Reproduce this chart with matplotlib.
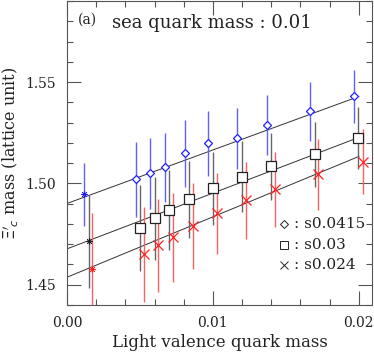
import numpy as np
import matplotlib
matplotlib.use("Agg")
import matplotlib.pyplot as plt
from matplotlib.ticker import MultipleLocator

plt.rcParams['font.family'] = ['DejaVu Serif']

# light valence quark mass, mass, error  (first point of each set = extrapolated)
x_s0415 = [0.00116, 0.00473, 0.00568, 0.00671, 0.00808, 0.00966, 0.01164, 0.0137, 0.01664, 0.01966]
y_s0415 = [1.4946, 1.5020, 1.5049, 1.5079, 1.5148, 1.5197, 1.5222, 1.5286, 1.5355, 1.5429]
e_s0415 = [0.0155, 0.0185, 0.0175, 0.0170, 0.0165, 0.0160, 0.0150, 0.0148, 0.0145, 0.0133]

x_s03 = [0.00151, 0.0050, 0.00603, 0.00699, 0.00836, 0.0100, 0.01199, 0.01397, 0.01699, 0.01993]
y_s03 = [1.4714, 1.4778, 1.4828, 1.4867, 1.4921, 1.4975, 1.5034, 1.5084, 1.5143, 1.5222]
e_s03 = [0.0229, 0.0212, 0.0204, 0.0197, 0.0190, 0.0182, 0.0175, 0.0165, 0.0160, 0.0153]

x_s024 = [0.00171, 0.00527, 0.00623, 0.00726, 0.00863, 0.01027, 0.01226, 0.01425, 0.01719, 0.02027]
y_s024 = [1.4576, 1.4650, 1.4695, 1.4734, 1.4788, 1.4852, 1.4916, 1.4970, 1.5044, 1.5108]
e_s024 = [0.0276, 0.0236, 0.0229, 0.0219, 0.0212, 0.0200, 0.0192, 0.0185, 0.0175, 0.0160]

# fit lines: value at x=0 and at x=0.02
fit_x = [0.0, 0.02]
fit_s0415 = [1.4901, 1.5429]
fit_s03 = [1.4677, 1.5227]
fit_s024 = [1.4537, 1.5133]

labels = [': s0.0415', ': s0.03', ': s0.024']

fig = plt.figure(figsize=(3.74, 3.53), dpi=100)
ax = fig.add_axes([67/374, 48/353, 305/374, 304/353])

sets = [
    (x_s0415, y_s0415, e_s0415, fit_s0415, '#2020ff', '#6060ff', 'D', 4.2),
    (x_s03, y_s03, e_s03, fit_s03, '#222222', '#666666', 's', 6.5),
    (x_s024, y_s024, e_s024, fit_s024, '#ff2020', '#ff6060', 'x', 6.5),
]

for xs, ys, es, fit, col, ecol, mk, ms in sets:
    ax.plot(fit_x, fit, color='#333333', lw=0.7, zorder=2)
    ax.errorbar(xs, ys, yerr=es, fmt='none', ecolor=ecol, elinewidth=1.0, capsize=0, zorder=3)
    ax.plot(xs[1:], ys[1:], linestyle='none', marker=mk, ms=ms, mfc='white' if mk != 'x' else col,
            mec=col, mew=0.9, zorder=4)
    ax.plot(xs[:1], ys[:1], linestyle='none', marker=(8, 2, 0), ms=4.5, mec=col, mew=0.6, zorder=4)

# legend
for i, (lab, mk, ms) in enumerate(zip(labels, ['D', 's', 'x'], [3.8, 5.2, 5.2])):
    yy = 0.268 - i * 0.069
    ax.plot([0.71], [yy], transform=ax.transAxes, marker=mk, ms=ms, mfc='white',
            mec='#222222', mew=0.7, linestyle='none')
    ax.text(0.745, yy, lab, transform=ax.transAxes, va='center', ha='left', fontsize=11, color='#222222')

ax.text(0.035, 0.925, '(a)', transform=ax.transAxes, fontsize=10, color='#222222')
ax.text(0.148, 0.912, 'sea quark mass : 0.01', transform=ax.transAxes, fontsize=13, color='#222222')

ax.set_xlim(0, 0.0209)
ax.set_ylim(1.44, 1.59)
ax.xaxis.set_major_locator(MultipleLocator(0.01))
ax.xaxis.set_minor_locator(MultipleLocator(0.002))
ax.yaxis.set_major_locator(MultipleLocator(0.05))
ax.yaxis.set_minor_locator(MultipleLocator(0.01))
ax.xaxis.set_major_formatter(plt.FuncFormatter(lambda v, p: '0.00' if abs(v) < 1e-9 else '%.2f' % v))
ax.yaxis.set_major_formatter(plt.FuncFormatter(lambda v, p: '%.2f' % v))
ax.tick_params(which='both', direction='in', top=True, right=True, colors='#555555',
               labelcolor='#222222', labelsize=10)
ax.tick_params(which='major', length=10, width=0.8, pad=8)
ax.tick_params(which='minor', length=4, width=0.8)
for s in ax.spines.values():
    s.set_color('#555555')
    s.set_linewidth(0.8)

ax.set_xlabel('Light valence quark mass', fontsize=12, color='#222222', labelpad=3)
ax.set_ylabel(r"$\Xi'_c$ mass (lattice unit)", fontsize=11.5, color='#222222', labelpad=4)

fig.savefig('out.png', dpi=100)
